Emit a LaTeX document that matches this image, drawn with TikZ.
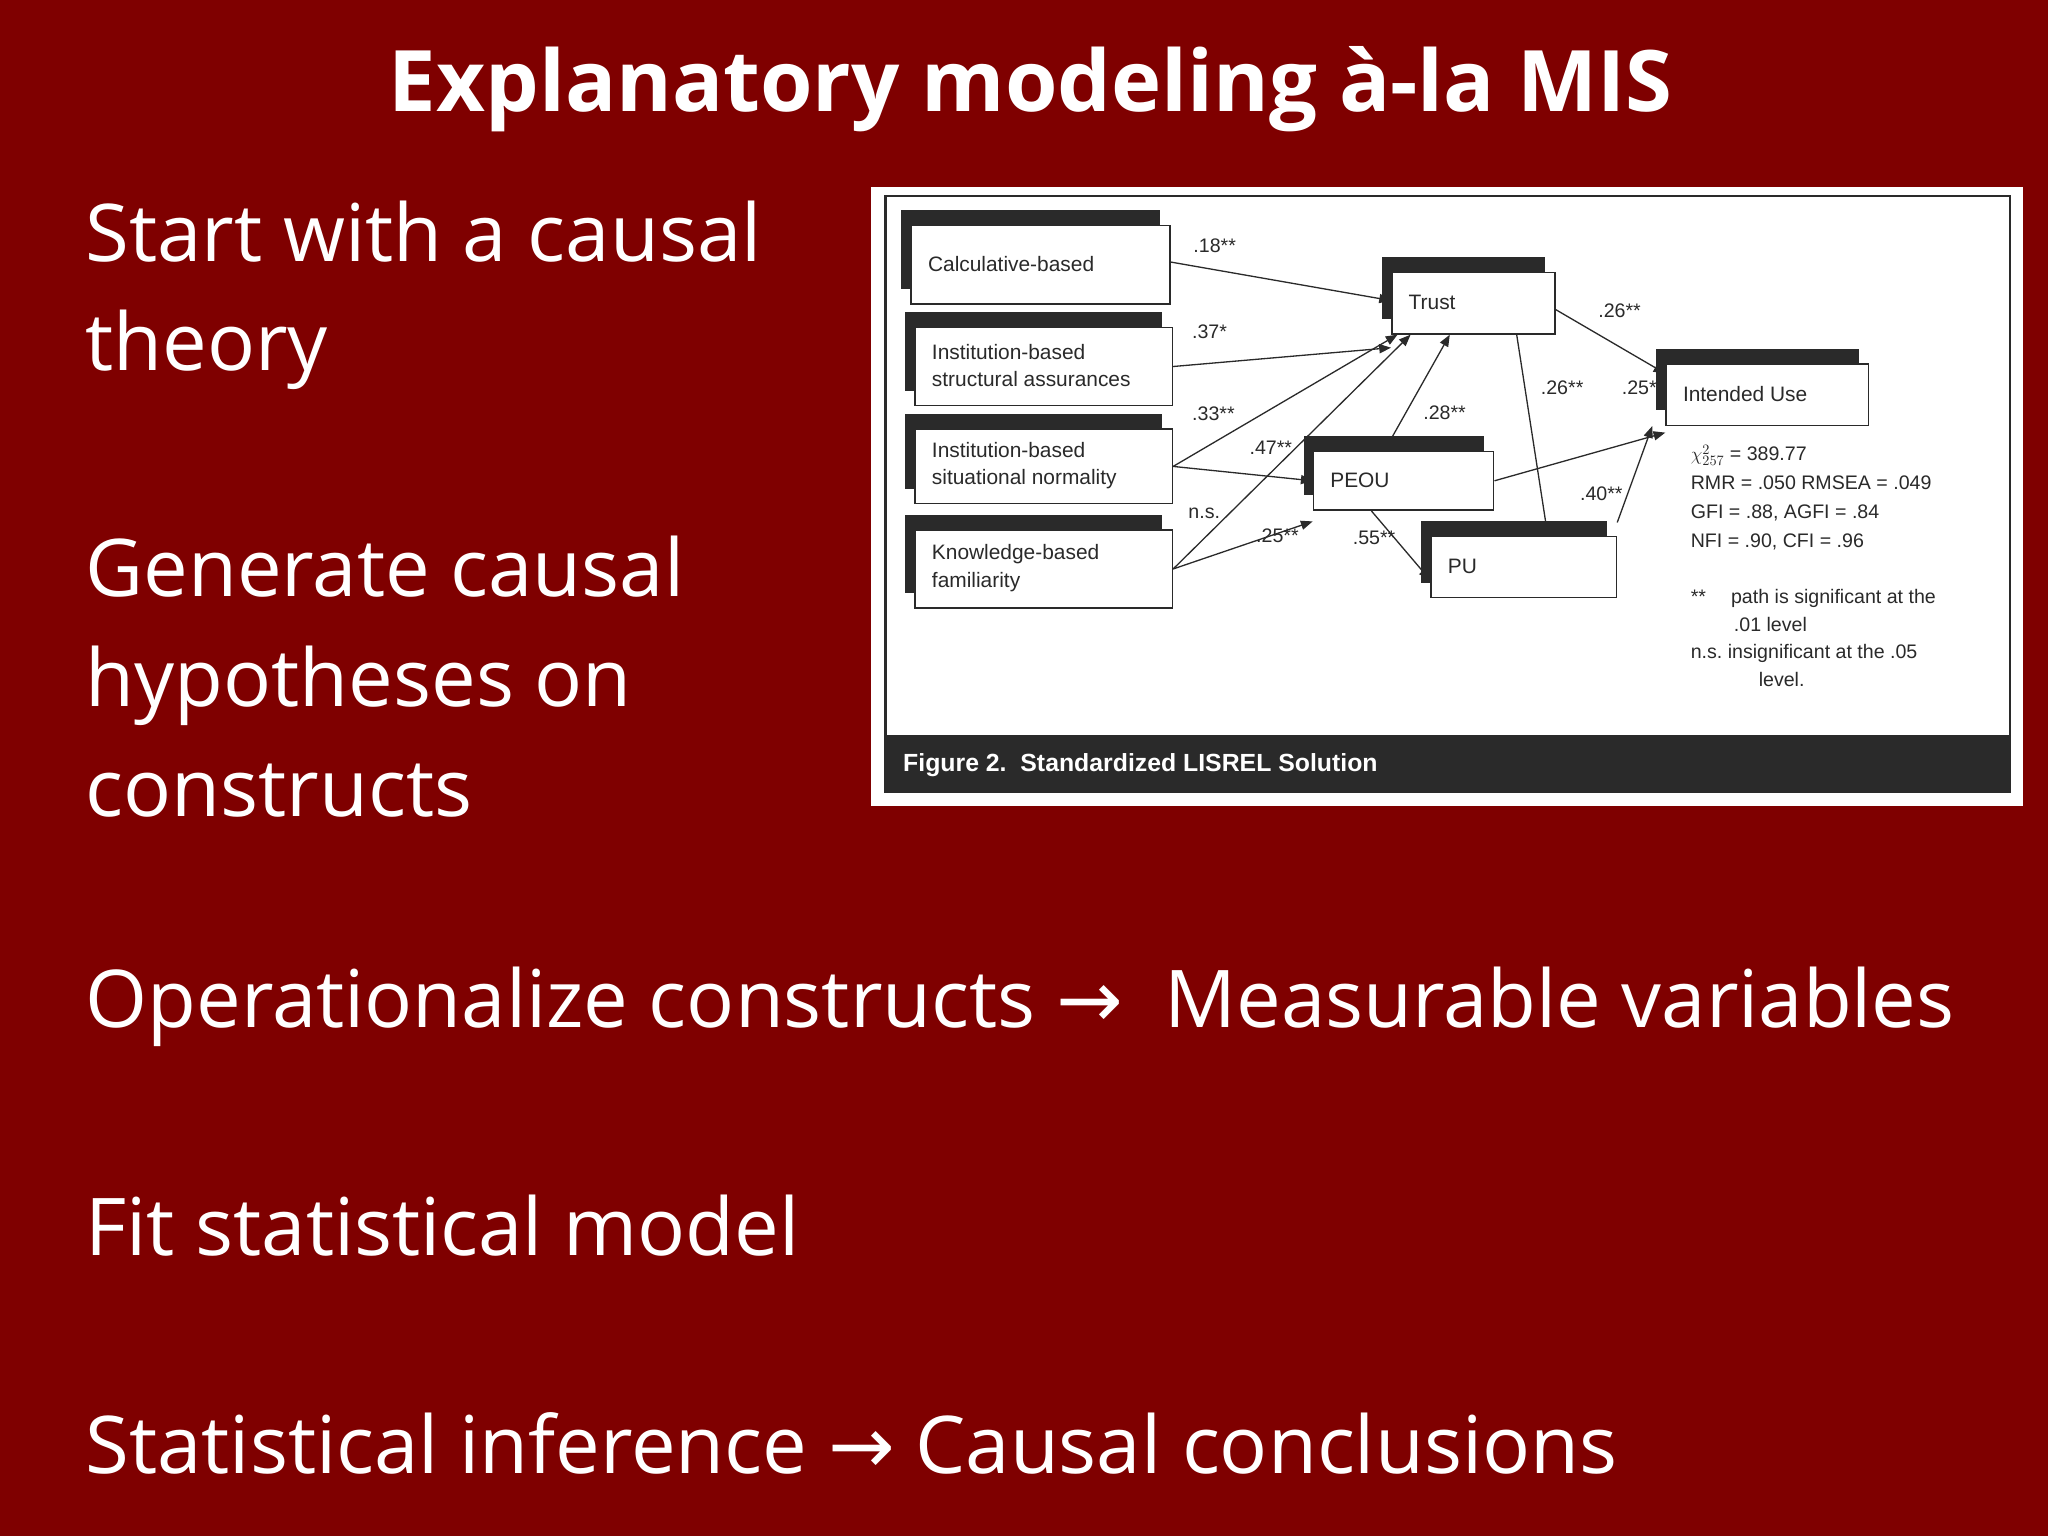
\documentclass[tikz,border=0pt]{standalone}
\usepackage{fontspec}
\setmainfont{Open Sans}
\newfontfamily\fig{Liberation Sans}
\newfontfamily\arr{DejaVu Sans}
\usetikzlibrary{arrows.meta}
\definecolor{bg}{HTML}{7F0000}
\definecolor{dk}{HTML}{2A2A2A}
\tikzset{
 body/.style={anchor=west,text=white,font=\fontsize{61}{84}\selectfont,align=left},
 lab/.style={font=\fig\fontsize{15}{17}\selectfont,text=dk},
 arr/.style={-{Triangle[length=9pt,width=7pt]},line width=1pt,draw=dk},
}
\newcommand{\cb}[6]{% name, x1,y1,x2,y2,text
 \fill[dk] (#2-7,#3-11) rectangle (#4-7,#5-11);
 \node[draw=dk,line width=1.2pt,fill=white,minimum width=#4-#2,minimum height=#5-#3,inner sep=0pt,anchor=north west] (#1) at (#2,#3) {};
 \node[lab,anchor=west,align=left,font=\fig\fontsize{16}{21}\selectfont] at (#2+10,#3/2+#5/2) {#6};}
\begin{document}
\begin{tikzpicture}[x=1pt,y=-1pt]
\useasboundingbox (0,0) rectangle (1568,1176);
\fill[bg] (0,0) rectangle (1568,1176);
\node[text=white,font=\fontsize{65}{75}\selectfont\bfseries] (title) at (789,68) {Explanatory modeling à-la MIS};
\node[body] (t1) at (62,226) {Start with a causal\\theory};
\node[body] (t2) at (62,518) {Generate causal\\hypotheses on\\constructs};
\node[body] (t3) at (62,771) {Operationalize constructs {\arr→}\ \ Measurable variables};
\node[body] (t4) at (62,938) {Fit statistical model};
\node[body] (t5) at (62,1105) {Statistical inference {\arr→} Causal conclusions};
% figure
\fill[white] (667,143) rectangle (1549,617);
\draw[dk,line width=2pt] (678,150) rectangle (1539,606);
\fill[dk] (678,563) rectangle (1539,606);
\node[anchor=west,text=white,font=\fig\bfseries\fontsize{19}{22}\selectfont] (cap) at (688,586) {Figure 2.\ \ Standardized LISREL Solution};
\cb{calc}{697}{172}{895}{232}{Calculative-based}
\cb{inA}{700}{250}{897}{310}{Institution-based\\structural assurances}
\cb{inB}{700}{328}{897}{385}{Institution-based\\situational normality}
\cb{kn}{700}{405}{897}{465}{Knowledge-based\\familiarity}
\cb{tr}{1065}{208}{1190}{255}{Trust}
\cb{pe}{1005}{345}{1143}{390}{PEOU}
\cb{pu}{1095}{410}{1237}{457}{PU}
\cb{iu}{1275}{278}{1430}{325}{Intended Use}
\draw[arr] (calc.east) ++(0,-2) -- ([yshift=2]tr.west);
\draw[arr] (inA.east) -- ([yshift=-10]tr.south west);
\draw[arr] (inB.east) -- ([xshift=5]tr.south west);
\draw[arr] (inB.east) -- (pe.west);
\draw[arr] (kn.east) -- ([xshift=15]tr.south west);
\draw[arr] (kn.east) -- ([yshift=-8]pe.south west);
\draw[arr] ([xshift=55]pe.north west) -- ([xshift=45]tr.south west);
\draw[arr] ([xshift=45]pe.south west) -- ([yshift=-10]pu.west);
\draw[arr] (pe.east) -- ([yshift=-5]iu.south west);
\draw[arr] ([yshift=-5]tr.east) -- ([yshift=-8]iu.north west);
\draw[arr] ([xshift=-30]tr.south east) -- ([xshift=90]pu.north west);
\draw[arr] ([yshift=10]pu.north east) -- ([xshift=-10]iu.south west);
\node[lab] (l1) at (930,188) {.18**};
\node[lab] (l2) at (926,254) {.37*};
\node[lab] (l3) at (929,317) {.33**};
\node[lab] (l4) at (973,343) {.47**};
\node[lab] (l5) at (922,393) {n.s.};
\node[lab] (l6) at (978,410) {.25**};
\node[lab] (l7) at (1106,316) {.28**};
\node[lab] (l8) at (1052,412) {.55**};
\node[lab] (l9) at (1240,238) {.26**};
\node[lab] (l10) at (1196,297) {.26**};
\node[lab] (l11) at (1258,297) {.25**};
\node[lab] (l12) at (1226,378) {.40**};
\node[lab,anchor=north west,align=left,font=\fig\fontsize{15}{22}\selectfont] (st) at (1291,337) {$\chi^2_{257}$ = 389.77\\RMR = .050 RMSEA = .049\\GFI = .88, AGFI = .84\\NFI = .90, CFI = .96};
\node[lab,anchor=north west,align=left,font=\fig\fontsize{15}{21}\selectfont] (nt) at (1291,448) {**\quad\ path is significant at the\\\hspace*{33pt}.01 level\\n.s.\ insignificant at the .05\\\hspace*{52pt}level.};
\end{tikzpicture}
\end{document}
